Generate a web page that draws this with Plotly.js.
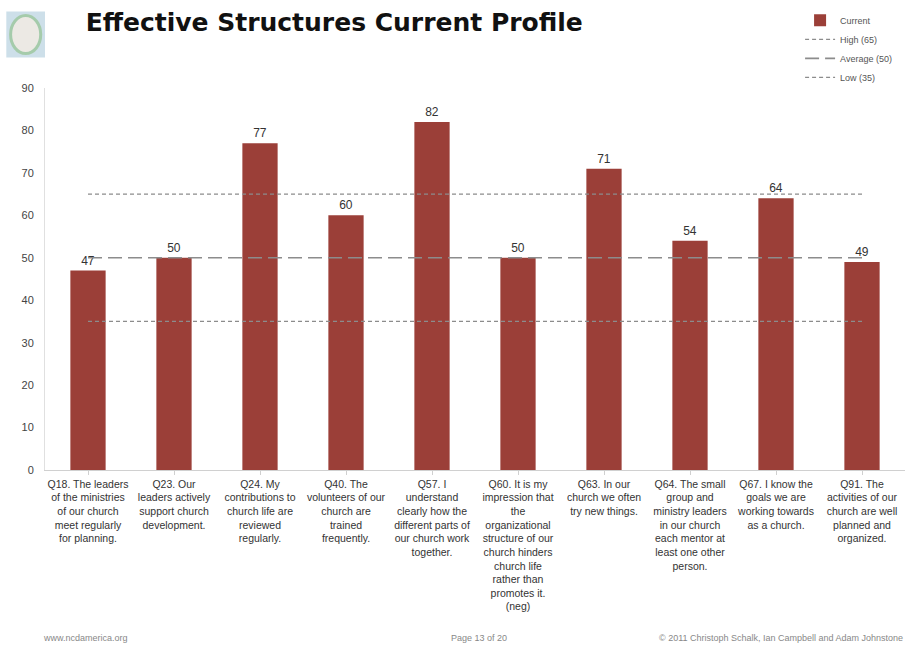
<!DOCTYPE html>
<html><head><meta charset="utf-8">
<script src="https://cdn.plot.ly/plotly-3.0.1.min.js"></script>
<style>html,body{margin:0;padding:0;background:#fff}#c{width:911px;height:649px}</style>
</head><body><div id="c"></div>
<script>
var categories = [
 "Q18. The leaders<br>of the ministries<br>of our church<br>meet regularly<br>for planning.",
 "Q23. Our<br>leaders actively<br>support church<br>development.",
 "Q24. My<br>contributions to<br>church life are<br>reviewed<br>regularly.",
 "Q40. The<br>volunteers of our<br>church are<br>trained<br>frequently.",
 "Q57. I<br>understand<br>clearly how the<br>different parts of<br>our church work<br>together.",
 "Q60. It is my<br>impression that<br>the<br>organizational<br>structure of our<br>church hinders<br>church life<br>rather than<br>promotes it.<br>(neg)",
 "Q63. In our<br>church we often<br>try new things.",
 "Q64. The small<br>group and<br>ministry leaders<br>in our church<br>each mentor at<br>least one other<br>person.",
 "Q67. I know the<br>goals we are<br>working towards<br>as a church.",
 "Q91. The<br>activities of our<br>church are well<br>planned and<br>organized."
];
var current = [47, 50, 77, 60, 82, 50, 71, 54, 64, 49];
var high = [65,65,65,65,65,65,65,65,65,65];
var average = [50,50,50,50,50,50,50,50,50,50];
var low = [35,35,35,35,35,35,35,35,35,35];
var yTicks = [0,10,20,30,40,50,60,70,80,90];

var data = [
 {type:'bar', name:'Current', x:categories, y:current, marker:{color:'#9b3f38'},
  text:current.map(String), textposition:'outside', cliponaxis:false,
  textfont:{size:12, color:'#333', family:'Liberation Sans, Arial'}},
 {type:'scatter', mode:'lines', name:'High (65)', x:categories, y:high,
  line:{color:'#8c8c8c', width:1.2, dash:'4px,3px'}},
 {type:'scatter', mode:'lines', name:'Average (50)', x:categories, y:average,
  line:{color:'#8c8c8c', width:1.6, dash:'14px,6px'}},
 {type:'scatter', mode:'lines', name:'Low (35)', x:categories, y:low,
  line:{color:'#8c8c8c', width:1.2, dash:'4px,3px'}}
];

var layout = {
 width:911, height:649,
 margin:{l:45, r:6, t:85, b:179},
 paper_bgcolor:'#fff', plot_bgcolor:'#fff',
 bargap:0.59,
 showlegend:true,
 legend:{x:0.878, y:1.215, xanchor:'left', yanchor:'top', font:{size:9, color:'#555', family:'Liberation Sans, Arial'},
   bgcolor:'rgba(0,0,0,0)', tracegroupgap:0, itemwidth:30},
 title:{text:'<b>Effective Structures Current Profile</b>', x:0.094, xanchor:'left', y:0.965, yanchor:'middle',
   font:{size:25, color:'#111', family:'DejaVu Sans'}},
 xaxis:{showgrid:false, showline:true, linecolor:'#d0d0d0', ticks:'outside', ticklen:4, tickcolor:'#d0d0d0',
   tickangle:0, tickfont:{size:10.5, color:'#333', family:'Liberation Sans, Arial'}, automargin:false},
 yaxis:{range:[0,90], tickvals:yTicks, showgrid:false, showline:true, linecolor:'#e0e0e0', zeroline:false,
   ticks:'', ticklabelstandoff:8, tickfont:{size:11, color:'#444', family:'Liberation Sans, Arial'}, automargin:false},
 shapes:[
  {type:'rect', xref:'paper', yref:'paper', x0:-0.045, x1:0.0, y0:1.08, y1:1.2, fillcolor:'#b8d2e0', line:{width:0}, opacity:0.7},
  {type:'circle', xref:'paper', yref:'paper', x0:-0.04, x1:-0.005, y0:1.09, y1:1.19, fillcolor:'#f4ece4', line:{color:'#9cc79c', width:3}, opacity:0.8}
 ],
 annotations:[
  {text:'www.ncdamerica.org', xref:'paper', yref:'paper', x:-0.005, y:-0.44, xanchor:'left', yanchor:'middle', showarrow:false, font:{size:9, color:'#888', family:'Liberation Sans, Arial'}},
  {text:'Page 13 of 20', xref:'paper', yref:'paper', x:0.47, y:-0.44, xanchor:'left', yanchor:'middle', showarrow:false, font:{size:9, color:'#888', family:'Liberation Sans, Arial'}},
  {text:'© 2011 Christoph Schalk, Ian Campbell and Adam Johnstone', xref:'paper', yref:'paper', x:1.0, y:-0.44, xanchor:'right', yanchor:'middle', showarrow:false, font:{size:9, color:'#888', family:'Liberation Sans, Arial'}}
 ]
};
Plotly.newPlot('c', data, layout, {displayModeBar:false, staticPlot:true});
</script></body></html>
